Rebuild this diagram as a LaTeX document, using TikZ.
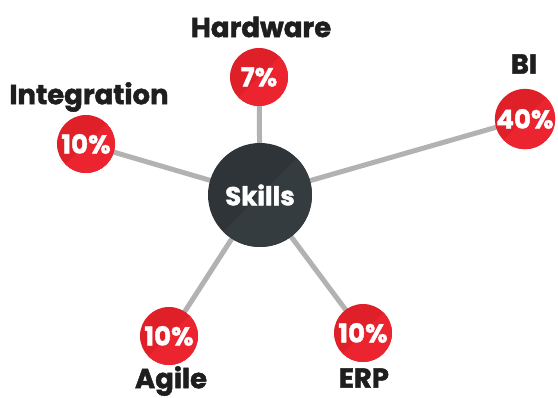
\documentclass[tikz,border=0pt]{standalone}
\usepackage{fontspec}
\setmainfont{Poppins}[BoldFeatures={FakeBold=1.6}]
\usetikzlibrary{backgrounds}
\definecolor{skillred}{HTML}{E02029}
\definecolor{skillredlight}{HTML}{EC2430}
\definecolor{skilldark}{HTML}{2E3437}
\definecolor{skilldarklight}{HTML}{353C3F}
\definecolor{linkgray}{HTML}{B4B1B1}
\definecolor{tagblack}{HTML}{1E1E1E}
\tikzset{
  hub/.style={circle,fill=skilldark,minimum size=104pt,inner sep=0pt,text=white,
    font=\fontsize{26}{26}\selectfont\bfseries,
    path picture={\fill[skilldarklight] (path picture bounding box.north east)
      -- (path picture bounding box.south west) -- (path picture bounding box.south east) -- cycle;}},
  pct/.style={circle,fill=skillred,minimum size=58pt,inner sep=0pt,text=white,
    font=\fontsize{26}{26}\selectfont\bfseries,
    path picture={\fill[skillredlight] (path picture bounding box.north east)
      -- (path picture bounding box.south west) -- (path picture bounding box.south east) -- cycle;}},
  tag/.style={text=tagblack,inner sep=0pt,font=\fontsize{27.5}{27.5}\selectfont\bfseries},
  link/.style={draw=linkgray,line width=5pt}
}

\begin{document}
\begin{tikzpicture}[x=1pt,y=-1pt]
\useasboundingbox (0,0) rectangle (558,398);

\node[hub] (skills) at (260,195) {Skills};

\node[pct] (hw) at (259,77) {7\%};
\node[tag] (hwtag) at (261,27) {Hardware};

\node[pct] (bi) at (525,119) {40\%};
\node[tag] (bitag) at (524,64) {BI};

\node[pct] (integ) at (86,144) {10\%};
\node[tag] (integtag) at (89,97) {Integration};

\node[pct] (agile) at (169,336) {10\%};
\node[tag] (agiletag) at (171,381) {Agile};

\node[pct] (erp) at (363,333) {10\%};
\node[tag] (erptag) at (364,378) {ERP};

\begin{pgfonlayer}{background}
\foreach \leaf in {hw,bi,integ,agile,erp}
  \draw[link] (skills.center) -- (\leaf.center);
\end{pgfonlayer}

\end{tikzpicture}
\end{document}
